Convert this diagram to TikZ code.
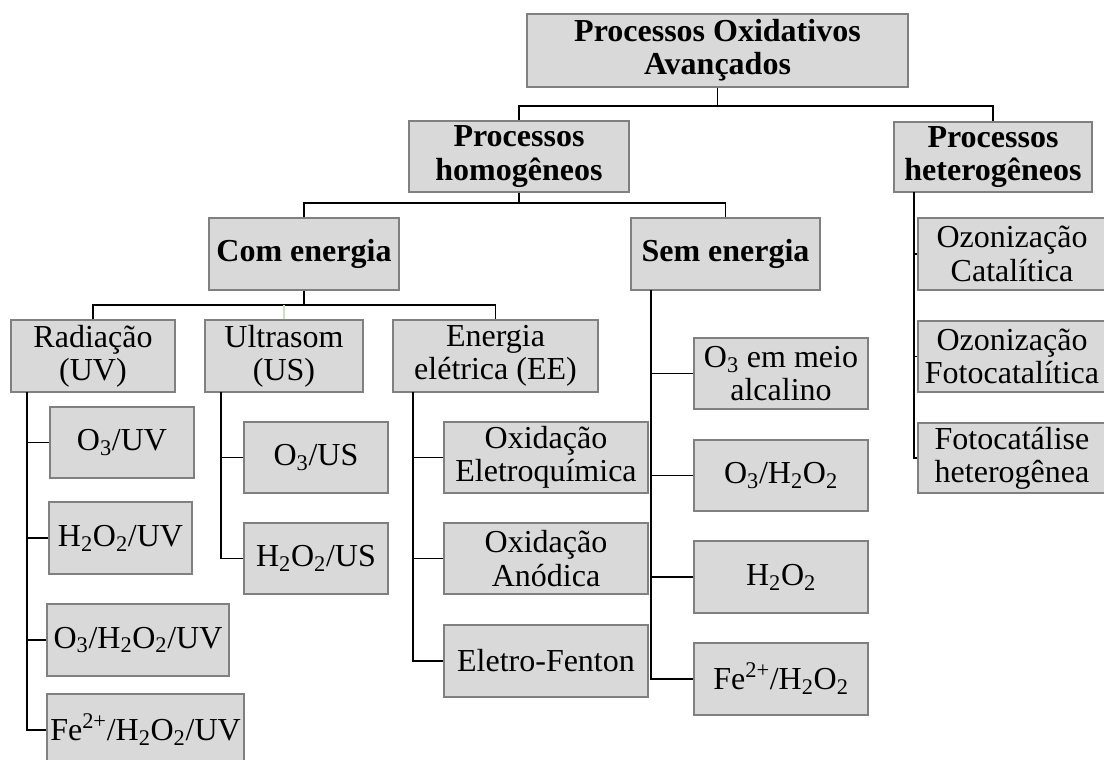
\documentclass[tikz,border=0pt]{standalone}
\usepackage{fontspec}
\setmainfont{Liberation Serif}
\definecolor{boxfill}{RGB}{217,217,217}
\definecolor{boxline}{RGB}{128,128,128}
\definecolor{faintgreen}{RGB}{200,225,195}
\tikzset{
  box/.style={draw=boxline, fill=boxfill, line width=0.8pt, inner sep=0pt, align=center,
    font=\fontsize{24}{25}\selectfont},
  hbox/.style={box, font=\fontsize{24}{25}\selectfont\bfseries},
  conn/.style={draw=black, line width=1pt},
}
\newcommand\mybox[7]{\node[#1, minimum width={(#5-(#3))*0.75pt}, minimum height={(#6-(#4))*0.75pt}] (#2) at ({(#3+#5)/2},{(#4+#6)/2}) {#7};}
\begin{document}
\begin{tikzpicture}[x=0.75pt,y=-0.75pt]
\useasboundingbox (0,0) rectangle (1104,760);
% level 0-2
\mybox{hbox}{poa}{527}{14}{908}{87}{Processos Oxidativos\\Avançados}
\mybox{hbox}{hom}{409}{121}{629}{192}{Processos\\homogêneos}
\mybox{hbox}{het}{894}{122}{1092}{192}{Processos\\heterogêneos}
\mybox{hbox}{com}{209}{218}{399}{290}{Com energia}
\mybox{hbox}{sem}{631}{218}{820}{290}{Sem energia}
% level 3
\mybox{box}{rad}{11}{320}{175}{392}{Radiação\\(UV)}
\mybox{box}{us}{205}{320}{363}{392}{Ultrasom\\(US)}
\mybox{box}{ee}{393}{320}{598}{392}{Energia\\elétrica (EE)}
% UV
\mybox{box}{o3uv}{50}{407}{194}{478}{O\textsubscript{3}/UV}
\mybox{box}{h2o2uv}{49}{502}{192}{574}{H\textsubscript{2}O\textsubscript{2}/UV}
\mybox{box}{o3h2o2uv}{47}{604}{229}{676}{O\textsubscript{3}/H\textsubscript{2}O\textsubscript{2}/UV}
\mybox{box}{feuv}{47}{694}{244}{766}{Fe\textsuperscript{2+}/H\textsubscript{2}O\textsubscript{2}/UV}
% US
\mybox{box}{o3us}{244}{422}{388}{493}{O\textsubscript{3}/US}
\mybox{box}{h2o2us}{244}{523}{388}{594}{H\textsubscript{2}O\textsubscript{2}/US}
% EE
\mybox{box}{oxe}{444}{422}{648}{493}{Oxidação\\Eletroquímica}
\mybox{box}{oxa}{444}{523}{648}{594}{Oxidação\\Anódica}
\mybox{box}{ef}{444}{625}{648}{697}{Eletro-Fenton}
% Sem energia
\mybox{box}{o3al}{694}{338}{868}{409}{O\textsubscript{3} em meio\\alcalino}
\mybox{box}{o3h2o2}{694}{440}{868}{511}{O\textsubscript{3}/H\textsubscript{2}O\textsubscript{2}}
\mybox{box}{h2o2}{694}{541}{868}{613}{H\textsubscript{2}O\textsubscript{2}}
\mybox{box}{feh2o2}{694}{643}{868}{715}{Fe\textsuperscript{2+}/H\textsubscript{2}O\textsubscript{2}}
% heterogeneous
\mybox{box}{oc}{918}{218}{1106}{290}{Ozonização\\Catalítica}
\mybox{box}{ofc}{918}{321}{1106}{392}{Ozonização\\Fotocatalítica}
\mybox{box}{fh}{918}{423}{1106}{493}{Fotocatálise\\heterogênea}
% helper coordinates
\coordinate (y1) at (0,106);
\coordinate (y2) at (0,203);
\coordinate (y3) at (0,305);
\coordinate (rv) at (27,392);
\coordinate (uv) at (221,392);
\coordinate (ev) at (413,392);
\coordinate (sv) at (651,290);
\coordinate (hv) at (914,192);
% connectors
\draw[conn] (poa.south) -- (poa.south |- y1);
\draw[conn] (hom.north) -- (hom.north |- y1) -| (het.north);
\draw[conn] (hom.south) -- (hom.south |- y2);
\draw[conn] (com.north) -- (com.north |- y2) -| (sem.north);
\draw[conn] (com.south) -- (com.south |- y3);
\draw[conn] (rad.north) -- (rad.north |- y3) -| (ee.north);
\draw[faintgreen, line width=0.8pt] (us.north) -- (us.north |- y3);
\draw[conn] (rv) |- (o3uv.west) (rv) |- (h2o2uv.west) (rv) |- (o3h2o2uv.west) (rv) |- (feuv.west);
\draw[conn] (uv) |- (o3us.west) (uv) |- (h2o2us.west);
\draw[conn] (ev) |- (oxe.west) (ev) |- (oxa.west) (ev) |- (ef.west);
\draw[conn] (sv) |- (o3al.west) (sv) |- (o3h2o2.west) (sv) |- (h2o2.west) (sv) |- (feh2o2.west);
\draw[conn] (hv) |- (oc.west) (hv) |- (ofc.west) (hv) |- (fh.west);
\end{tikzpicture}
\end{document}
